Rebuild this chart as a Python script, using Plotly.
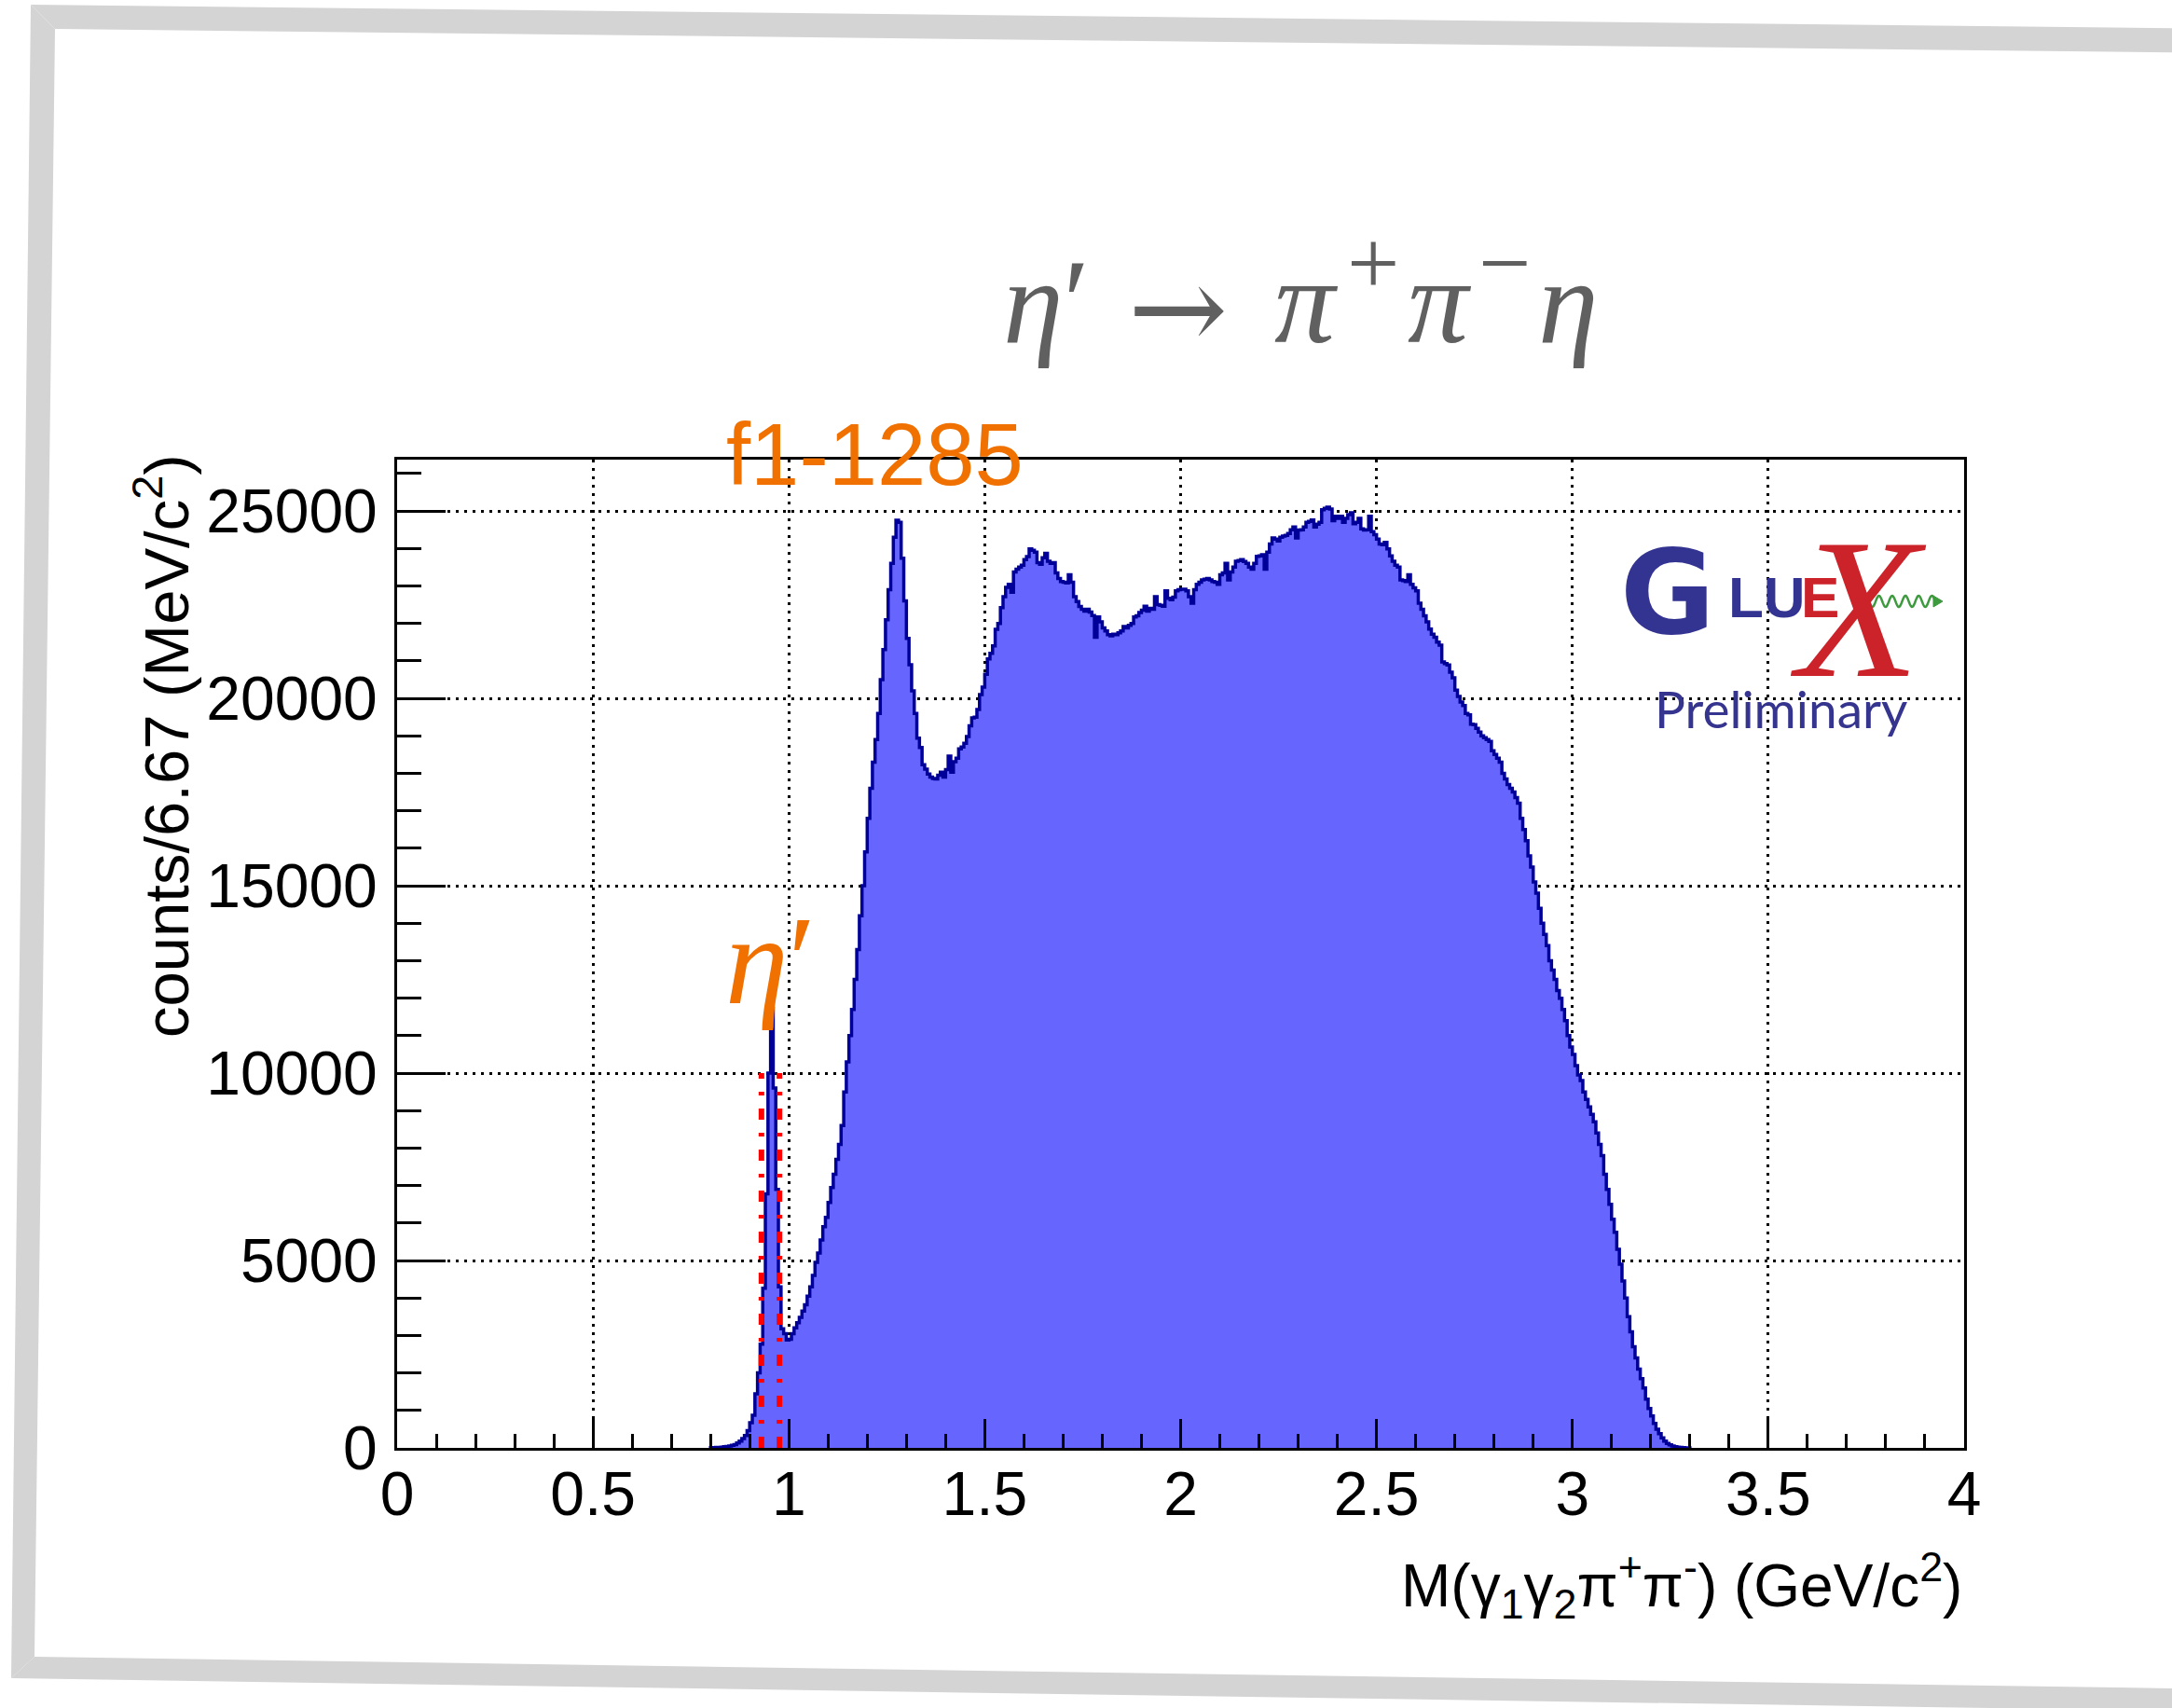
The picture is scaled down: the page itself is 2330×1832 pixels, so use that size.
import numpy as np
import plotly.graph_objects as go

# ---------------- data ----------------
# histogram: bins of 6.67 MeV (600 bins over 0-4 GeV); non-empty bins from 0.8 to 3.3 GeV
bin_width_gev = 4.0 / 600
first_bin_index = 120
# counts per bin, in thousands (one row = 0.1 GeV = 15 bins)
counts_thousands = [
    0.005, 0.007, 0.01, 0.015, 0.02, 0.03, 0.04, 0.05, 0.07, 0.09, 0.13, 0.18, 0.25, 0.33, 0.46,
    0.67, 0.87, 1.44, 2.0, 2.77, 4.26, 6.78, 10.0, 11.73, 9.6, 6.9, 4.3, 3.18, 3.05, 2.88,
    2.9, 3.05, 3.2, 3.34, 3.48, 3.65, 3.82, 4.05, 4.3, 4.6, 4.95, 5.2, 5.55, 5.9, 6.15,
    6.55, 6.95, 7.3, 7.7, 8.1, 8.6, 9.5, 10.3, 11.0, 11.7, 12.5, 13.3, 14.2, 15.0, 15.9,
    16.8, 17.6, 18.3, 18.9, 19.6, 20.5, 21.3, 22.1, 22.9, 23.6, 24.3, 24.75, 24.7, 23.74, 22.6,
    21.6, 20.9, 20.2, 19.6, 18.94, 18.69, 18.23, 18.11, 17.98, 17.9, 17.86, 17.85, 17.95, 18.03, 17.9,
    18.1, 18.46, 18.03, 18.31, 18.4, 18.65, 18.7, 18.8, 18.98, 19.27, 19.48, 19.5, 19.7, 20.1, 20.3,
    20.64, 21.05, 21.2, 21.4, 21.84, 22.0, 22.42, 22.71, 22.96, 23.04, 22.83, 23.37, 23.45, 23.5, 23.55,
    23.7, 23.78, 23.99, 23.95, 23.9, 23.62, 23.58, 23.75, 23.87, 23.66, 23.6, 23.62, 23.35, 23.2, 23.12,
    23.1, 23.08, 23.3, 23.1, 22.71, 22.58, 22.45, 22.38, 22.33, 22.38, 22.3, 22.21, 21.63, 22.17, 22.04,
    21.88, 21.8, 21.7, 21.67, 21.71, 21.7, 21.75, 21.8, 21.92, 21.88, 21.95, 22.0, 22.17, 22.2, 22.29,
    22.35, 22.46, 22.33, 22.4, 22.38, 22.71, 22.5, 22.48, 22.46, 22.87, 22.67, 22.63, 22.7, 22.87, 22.9,
    22.91, 22.91, 22.87, 22.71, 22.54, 22.9, 23.04, 23.1, 23.16, 23.18, 23.2, 23.16, 23.12, 23.1, 23.04,
    23.3, 23.35, 23.6, 23.16, 23.37, 23.5, 23.66, 23.68, 23.7, 23.65, 23.6, 23.5, 23.45, 23.6, 23.79,
    23.8, 23.83, 23.45, 23.9, 24.12, 24.28, 24.25, 24.2, 24.3, 24.33, 24.35, 24.4, 24.5, 24.57, 24.28,
    24.49, 24.5, 24.57, 24.7, 24.72, 24.76, 24.57, 24.65, 24.7, 25.03, 25.07, 25.1, 25.05, 24.74, 24.86,
    24.8, 24.86, 24.7, 24.8, 24.9, 24.95, 24.66, 24.7, 24.8, 24.52, 24.49, 24.5, 24.86, 24.45, 24.37,
    24.25, 24.12, 24.1, 24.16, 23.99, 23.8, 23.66, 23.55, 23.5, 23.16, 23.14, 23.12, 23.3, 23.04, 22.95,
    22.87, 22.54, 22.38, 22.2, 22.04, 21.85, 21.71, 21.63, 21.5, 21.42, 20.97, 20.93, 20.89, 20.7, 20.55,
    20.22, 20.05, 19.9, 19.81, 19.6, 19.56, 19.31, 19.3, 19.2, 19.1, 19.0, 18.95, 18.9, 18.85, 18.6,
    18.5, 18.4, 18.3, 18.0, 17.85, 17.7, 17.6, 17.5, 17.35, 17.2, 16.8, 16.5, 16.2, 15.8, 15.5,
    15.1, 14.8, 14.4, 14.0, 13.7, 13.4, 13.0, 12.75, 12.5, 12.2, 12.0, 11.7, 11.4, 11.0, 10.7,
    10.5, 10.2, 9.95, 9.8, 9.5, 9.3, 9.1, 8.9, 8.7, 8.4, 8.1, 7.8, 7.3, 6.9, 6.5,
    6.1, 5.75, 5.3, 4.9, 4.45, 4.0, 3.5, 3.1, 2.7, 2.4, 2.1, 1.85, 1.6, 1.3, 1.05,
    0.85, 0.65, 0.5, 0.38, 0.27, 0.18, 0.12, 0.08, 0.05, 0.03, 0.02, 0.01, 0.005, 0.003, 0.001,
]
# eta' selection window (red dotted lines)
eta_prime_window_gev = [0.93, 0.976]
eta_prime_window_height = 10000

x_range = [0, 4]
y_range = [0, 26370]
x_tick_step, x_minor_step = 0.5, 0.1
y_tick_step, y_minor_step = 5000, 1000

# title pieces: η′ → π⁺π⁻η
title_pieces = ["<i>η</i>′", "→", "<i>π</i>", "+", "<i>π</i>", "−", "<i>η</i>"]
x_title = "M(γ<sub>1</sub>γ<sub>2</sub>π<sup>+</sup>π<sup>-</sup>) (GeV/c<sup>2</sup>)"
y_title = "counts/6.67 (MeV/c<sup>2</sup>)"
label_f1 = "f1-1285"
label_etap = "<i>η</i>′"

# ---------------- build histogram step line ----------------
counts = np.array(counts_thousands) * 1000.0
n = len(counts)
edges = (first_bin_index + np.arange(n + 1)) * bin_width_gev
xs = np.concatenate([[edges[0]], edges[:-1], [edges[-1]]])
ys = np.concatenate([[0.0], counts, [0.0]])

W, H = 2330, 1832
L, R, T, B = 426, 2107, 493, 1553


def px(x):
    return (x - L) / (R - L)


def py(y):
    return (B - y) / (B - T)


fig = go.Figure()
fig.add_trace(go.Scatter(
    x=xs, y=ys, mode="lines", line=dict(shape="hv", color="#000099", width=3.5),
    fill="tozeroy", fillcolor="#6666ff", hoverinfo="skip", showlegend=False))

for xv in eta_prime_window_gev:
    fig.add_trace(go.Scatter(
        x=[xv, xv], y=[0, eta_prime_window_height], mode="lines",
        line=dict(color="#ff0000", width=6, dash="12px,14px,4px,14px"),
        hoverinfo="skip", showlegend=False))

tickfont = dict(family="Liberation Sans, Arial, sans-serif", size=66, color="black")
grid_kw = dict(showgrid=True, gridcolor="black", gridwidth=3, griddash="3px,6px")

fig.update_xaxes(
    range=x_range, tick0=0, dtick=x_tick_step, ticks="inside", ticklen=31, tickwidth=3,
    tickcolor="black", minor=dict(dtick=x_minor_step, ticks="inside", ticklen=15, tickwidth=3,
                                  tickcolor="black", showgrid=False),
    showline=True, linewidth=3, linecolor="black", mirror=True, zeroline=False,
    tickfont=tickfont, ticklabelstandoff=-10, **grid_kw)
fig.update_yaxes(
    range=y_range, tick0=0, dtick=y_tick_step, ticks="inside", ticklen=52, tickwidth=3,
    tickcolor="black", minor=dict(dtick=y_minor_step, ticks="inside", ticklen=26, tickwidth=3,
                                  tickcolor="black", showgrid=False),
    showline=True, linewidth=3, linecolor="black", mirror=True, zeroline=False,
    tickformat="d", tickfont=tickfont, ticklabelstandoff=5, **grid_kw)

P = dict(xref="paper", yref="paper", showarrow=False)
serif = "Liberation Serif, Times New Roman, serif"
tgrey = "#606060"
# (text, x px, anchor, y-centre px, font family, size)
title_layout = [
    (title_pieces[0], 1074, "left", 323, serif, 130),
    (title_pieces[1], 1263, "center", 330, "DejaVu Serif, serif", 128),
    (title_pieces[2], 1365, "left", 323, serif, 130),
    (title_pieces[3], 1473, "center", 283, serif, 100),
    (title_pieces[4], 1508, "left", 323, serif, 130),
    (title_pieces[5], 1614, "center", 282, serif, 100),
    (title_pieces[6], 1648, "left", 323, serif, 130),
]
annotations = [
    dict(text=t, x=px(xp), y=py(yp), xanchor=anc, yanchor="middle",
         font=dict(family=fam, size=sz, color=tgrey), **P)
    for t, xp, anc, yp, fam, sz in title_layout
]
annotations += [
    # axis titles
    dict(text=x_title, x=1.0, y=py(1700), xanchor="right", yanchor="middle",
         font=dict(family="Liberation Sans, Arial, sans-serif", size=64, color="black"), **P),
    dict(text=y_title, x=px(174), y=py(800), xanchor="center", yanchor="middle", textangle=-90,
         font=dict(family="Liberation Sans, Arial, sans-serif", size=67, color="black"), **P),
    # peak labels
    dict(text=label_f1, x=px(938), y=py(488), xanchor="center", yanchor="middle",
         font=dict(family="Liberation Sans, Arial, sans-serif", size=94, color="#f07000"), **P),
    dict(text=label_etap, x=px(826), y=py(1030), xanchor="center", yanchor="middle",
         font=dict(family=serif, size=136, color="#f07000"), **P),
    # GlueX logo
    dict(text="<b>G</b>", x=px(1789), y=py(636), xanchor="center", yanchor="middle",
         font=dict(family="DejaVu Sans, sans-serif", size=124, color="#333391"), **P),
    dict(text="<b>LU</b>", x=px(1895), y=py(640), xanchor="center", yanchor="middle",
         font=dict(family="Liberation Sans, Arial, sans-serif", size=62, color="#333391"), **P),
    dict(text="<b>E</b>", x=px(1952), y=py(640), xanchor="center", yanchor="middle",
         font=dict(family="Liberation Sans, Arial, sans-serif", size=62, color="#cc2229"), **P),
    dict(text="<i>X</i>", x=px(1993), y=py(652), xanchor="center", yanchor="middle",
         font=dict(family=serif, size=215, color="#cc2229"), **P),
    dict(text="Preliminary", x=px(1910), y=py(760), xanchor="center", yanchor="middle",
         font=dict(family="Lato, Noto Sans, sans-serif", size=55, color="#35348f"), **P),
]
fig.update_layout(annotations=annotations)

# decorative wavy photon line of the logo
wx = np.linspace(2005, 2076, 120)
wy = 645 + 6 * np.sin((wx - 2005) / 71 * 2 * np.pi * 5)
wpath = "M " + " L ".join(f"{px(a):.5f},{py(b):.5f}" for a, b in zip(wx, wy))
shapes = [
    dict(type="path", xref="paper", yref="paper", path=wpath,
         line=dict(color="#3d9a3d", width=2.5)),
    dict(type="path", xref="paper", yref="paper",
         path=f"M {px(2074):.5f},{py(639):.5f} L {px(2084):.5f},{py(645):.5f} L {px(2074):.5f},{py(651):.5f} Z",
         fillcolor="#3d9a3d", line=dict(color="#3d9a3d", width=1)),
]

# grey slide frame (slightly rotated)
grey = "#d4d4d4"


def poly(points):
    return "M " + " L ".join(f"{px(a):.5f},{py(b):.5f}" for a, b in points) + " Z"


shapes += [
    dict(type="path", xref="paper", yref="paper", layer="below", fillcolor=grey,
         line=dict(width=0), path=poly([(33, 5), (2400, 31), (2400, 57), (59, 31)])),
    dict(type="path", xref="paper", yref="paper", layer="below", fillcolor=grey,
         line=dict(width=0), path=poly([(33, 5), (59, 31), (37, 1777), (12, 1800)])),
    dict(type="path", xref="paper", yref="paper", layer="below", fillcolor=grey,
         line=dict(width=0), path=poly([(12, 1800), (37, 1777), (2400, 1812), (2400, 1836)])),
]
fig.update_layout(shapes=shapes)

fig.update_layout(
    width=W, height=H, margin=dict(l=L, r=W - R, t=T, b=H - B, autoexpand=False),
    paper_bgcolor="white", plot_bgcolor="white", showlegend=False)

fig.write_html("out.html")
